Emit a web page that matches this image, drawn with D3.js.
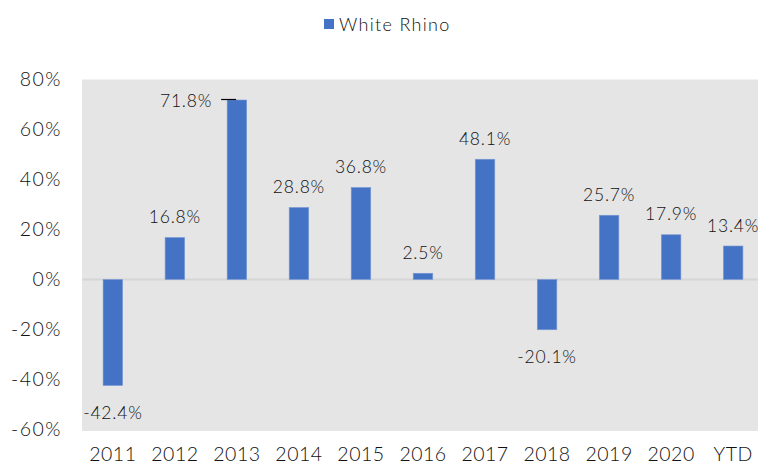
<!DOCTYPE html>
<html><head><meta charset="utf-8">
<script src="https://cdnjs.cloudflare.com/ajax/libs/d3/7.8.5/d3.min.js"></script>
<style>
body{margin:0;background:#fff;}
text{font-family:Lato,"Open Sans",sans-serif;fill:#111;font-weight:300;}
</style></head>
<body><svg id="c" width="758" height="467"></svg>
<script>
const categories = ["2011","2012","2013","2014","2015","2016","2017","2018","2019","2020","YTD"];
const values = [-42.4,16.8,71.8,28.8,36.8,2.5,48.1,-20.1,25.7,17.9,13.4];
const seriesName = "White Rhino";
const yTicks = [-60,-40,-20,0,20,40,60,80];

const svg = d3.select("#c");
const pLeft = 82, pRight = 764, pTop = 79.5, pBottom = 429.5;
const x = d3.scaleBand().domain(categories).range([pLeft, pRight]).paddingInner(0.685).paddingOuter(0.34);
const y = d3.scaleLinear().domain([-60, 80]).range([pBottom, pTop]);
const color = "#4472C4";

svg.append("rect").attr("x", pLeft).attr("y", pTop).attr("width", 758-pLeft).attr("height", pBottom-pTop+1.5).attr("fill","#e5e5e5");

// zero line
svg.append("line").attr("x1", pLeft).attr("x2", 758).attr("y1", y(0)).attr("y2", y(0))
  .attr("stroke","#d6d6d6").attr("stroke-width",2);

// y axis labels
const yAxis = d3.axisLeft(y).tickValues(yTicks).tickFormat(d => d + "%").tickSize(0).tickPadding(0);
const ya = svg.append("g").attr("transform","translate(62,0)").call(yAxis);
ya.select(".domain").remove();
ya.selectAll("text").attr("font-size","19.5px").attr("fill","#111").attr("font-family","Lato").style("letter-spacing","1.5px");

// x axis labels
const xAxis = d3.axisBottom(x).tickSize(0).tickPadding(0);
const xa = svg.append("g").attr("transform","translate(0,447)").call(xAxis);
xa.select(".domain").remove();
xa.selectAll("text").attr("font-size","19.5px").attr("fill","#111").attr("font-family","Lato").style("letter-spacing","0.5px");

// bars
svg.selectAll("rect.bar").data(values).enter().append("rect").attr("class","bar")
  .attr("x",(d,i)=>x(categories[i]))
  .attr("width", x.bandwidth())
  .attr("y", d => y(Math.max(0,d)))
  .attr("height", d => Math.abs(y(d)-y(0)))
  .attr("fill", color).attr("stroke","#7a9ad6").attr("stroke-width",0.6);

// labels
values.forEach((d,i)=>{
  const cx = x(categories[i]) + x.bandwidth()/2;
  const t = svg.append("text").attr("font-size","17.5px").attr("dominant-baseline","central").style("letter-spacing","0.8px")
    .text(d.toFixed(1) + "%");
  if (categories[i] === "2013") {
    t.attr("x", x(categories[i]) - 15).attr("y", y(d)).attr("text-anchor","end");
    svg.append("line").attr("x1", x(categories[i]) - 6).attr("x2", x(categories[i]) + 9)
      .attr("y1", y(d)-0.5).attr("y2", y(d)-0.5).attr("stroke","#000").attr("stroke-width",1.2);
  } else if (d >= 0) {
    t.attr("x", cx).attr("y", y(d) - 21).attr("text-anchor","middle");
  } else {
    t.attr("x", cx).attr("y", y(d) + 27).attr("text-anchor","middle");
  }
});

// legend
svg.append("rect").attr("x",324).attr("y",19).attr("width",10).attr("height",10).attr("fill",color);
svg.append("text").attr("x",339).attr("y",24).attr("dominant-baseline","central").attr("font-size","18px").style("letter-spacing","1.3px").text(seriesName);
</script></body></html>
